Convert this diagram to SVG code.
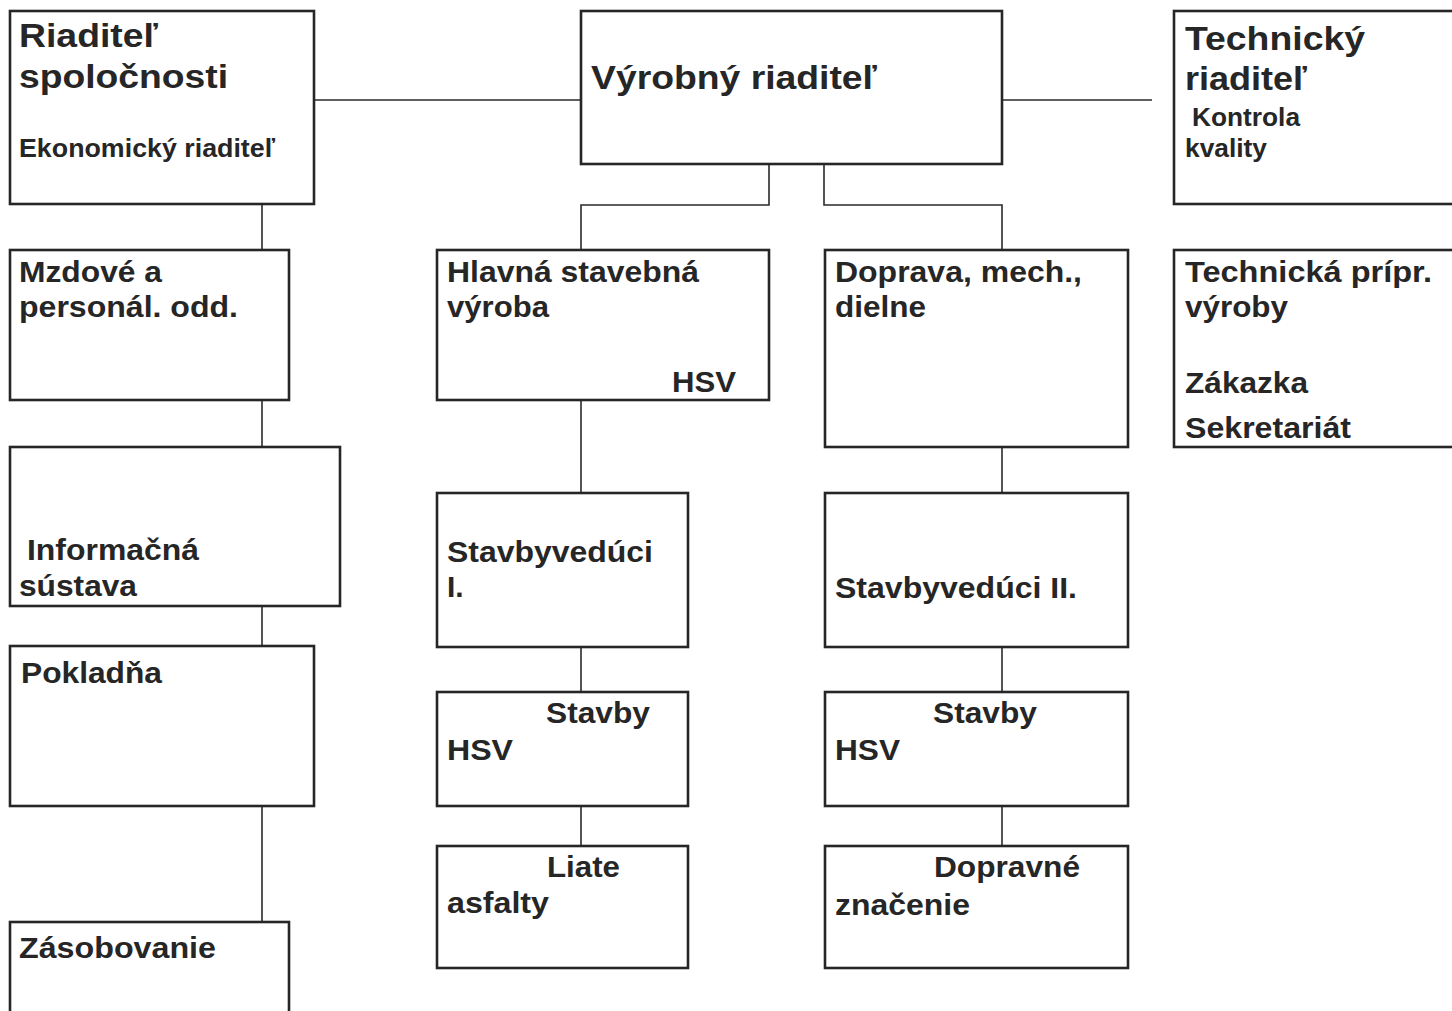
<svg xmlns="http://www.w3.org/2000/svg" width="1452" height="1011" viewBox="0 0 1452 1011">
<style>
.box{fill:#ffffff;stroke:#262626;stroke-width:2.6}
.ln{fill:none;stroke:#2a2a2a;stroke-width:1.6}
text{font-family:"Liberation Sans",Arial,sans-serif;font-weight:bold;fill:#262626}
.t1{font-size:34px}
.t2{font-size:30px}
.t3{font-size:25px}
</style>
<rect width="1452" height="1011" fill="#ffffff"/>
<g id="connectors">
<line class="ln" x1="314" y1="100" x2="581" y2="100"/>
<line class="ln" x1="1002" y1="100" x2="1152" y2="100"/>
<polyline class="ln" points="769,164 769,205 581,205 581,250"/>
<polyline class="ln" points="824,164 824,205 1002,205 1002,250"/>
<line class="ln" x1="262" y1="204" x2="262" y2="250"/>
<line class="ln" x1="262" y1="400" x2="262" y2="447"/>
<line class="ln" x1="262" y1="606" x2="262" y2="646"/>
<line class="ln" x1="262" y1="806" x2="262" y2="922"/>
<line class="ln" x1="581" y1="400" x2="581" y2="493"/>
<line class="ln" x1="581" y1="647" x2="581" y2="692"/>
<line class="ln" x1="581" y1="806" x2="581" y2="846"/>
<line class="ln" x1="1002" y1="447" x2="1002" y2="493"/>
<line class="ln" x1="1002" y1="647" x2="1002" y2="692"/>
<line class="ln" x1="1002" y1="806" x2="1002" y2="846"/>
</g>
<g id="riaditel-spolocnosti">
<rect class="box" x="10" y="11" width="304" height="193"/>
<text class="t1" x="19" y="47" textLength="139" lengthAdjust="spacingAndGlyphs">Riaditeľ</text>
<text class="t1" x="19" y="88" textLength="209" lengthAdjust="spacingAndGlyphs">spoločnosti</text>
<text class="t3" x="19" y="157" textLength="256" lengthAdjust="spacingAndGlyphs">Ekonomický riaditeľ</text>
</g>
<g id="vyrobny-riaditel">
<rect class="box" x="581" y="11" width="421" height="153"/>
<text class="t1" x="591" y="89" textLength="286" lengthAdjust="spacingAndGlyphs">Výrobný riaditeľ</text>
</g>
<g id="technicky-riaditel">
<rect class="box" x="1174" y="11" width="290" height="193"/>
<text class="t1" x="1185" y="50" textLength="180" lengthAdjust="spacingAndGlyphs">Technický</text>
<text class="t1" x="1185" y="90" textLength="122" lengthAdjust="spacingAndGlyphs">riaditeľ</text>
<text class="t3" x="1192" y="126" textLength="108" lengthAdjust="spacingAndGlyphs">Kontrola</text>
<text class="t3" x="1185" y="157" textLength="82" lengthAdjust="spacingAndGlyphs">kvality</text>
</g>
<g id="mzdove">
<rect class="box" x="10" y="250" width="279" height="150"/>
<text class="t2" x="19" y="282" textLength="143" lengthAdjust="spacingAndGlyphs">Mzdové a</text>
<text class="t2" x="19" y="317" textLength="219" lengthAdjust="spacingAndGlyphs">personál. odd.</text>
</g>
<g id="hlavna-stavebna-vyroba">
<rect class="box" x="437" y="250" width="332" height="150"/>
<text class="t2" x="447" y="282" textLength="252" lengthAdjust="spacingAndGlyphs">Hlavná stavebná</text>
<text class="t2" x="447" y="317" textLength="102" lengthAdjust="spacingAndGlyphs">výroba</text>
<text class="t2" x="672" y="392" textLength="64" lengthAdjust="spacingAndGlyphs">HSV</text>
</g>
<g id="doprava">
<rect class="box" x="825" y="250" width="303" height="197"/>
<text class="t2" x="835" y="282" textLength="247" lengthAdjust="spacingAndGlyphs">Doprava, mech.,</text>
<text class="t2" x="835" y="317" textLength="91" lengthAdjust="spacingAndGlyphs">dielne</text>
</g>
<g id="technicka-pripr">
<rect class="box" x="1174" y="250" width="290" height="197"/>
<text class="t2" x="1185" y="282" textLength="247" lengthAdjust="spacingAndGlyphs">Technická prípr.</text>
<text class="t2" x="1185" y="317" textLength="103" lengthAdjust="spacingAndGlyphs">výroby</text>
<text class="t2" x="1185" y="393" textLength="123" lengthAdjust="spacingAndGlyphs">Zákazka</text>
<text class="t2" x="1185" y="438" textLength="166" lengthAdjust="spacingAndGlyphs">Sekretariát</text>
</g>
<g id="informacna-sustava">
<rect class="box" x="10" y="447" width="330" height="159"/>
<text class="t2" x="27" y="560" textLength="172" lengthAdjust="spacingAndGlyphs">Informačná</text>
<text class="t2" x="19" y="596" textLength="118" lengthAdjust="spacingAndGlyphs">sústava</text>
</g>
<g id="stavbyveduci-1">
<rect class="box" x="437" y="493" width="251" height="154"/>
<text class="t2" x="447" y="562" textLength="206" lengthAdjust="spacingAndGlyphs">Stavbyvedúci</text>
<text class="t2" x="447" y="597">I.</text>
</g>
<g id="stavbyveduci-2">
<rect class="box" x="825" y="493" width="303" height="154"/>
<text class="t2" x="835" y="598" textLength="242" lengthAdjust="spacingAndGlyphs">Stavbyvedúci II.</text>
</g>
<g id="pokladna">
<rect class="box" x="10" y="646" width="304" height="160"/>
<text class="t2" x="21" y="683" textLength="141" lengthAdjust="spacingAndGlyphs">Pokladňa</text>
</g>
<g id="stavby-hsv-1">
<rect class="box" x="437" y="692" width="251" height="114"/>
<text class="t2" x="546" y="723" textLength="104" lengthAdjust="spacingAndGlyphs">Stavby</text>
<text class="t2" x="447" y="760" textLength="66" lengthAdjust="spacingAndGlyphs">HSV</text>
</g>
<g id="stavby-hsv-2">
<rect class="box" x="825" y="692" width="303" height="114"/>
<text class="t2" x="933" y="723" textLength="104" lengthAdjust="spacingAndGlyphs">Stavby</text>
<text class="t2" x="835" y="760" textLength="65" lengthAdjust="spacingAndGlyphs">HSV</text>
</g>
<g id="liate-asfalty">
<rect class="box" x="437" y="846" width="251" height="122"/>
<text class="t2" x="547" y="877" textLength="73" lengthAdjust="spacingAndGlyphs">Liate</text>
<text class="t2" x="447" y="913" textLength="102" lengthAdjust="spacingAndGlyphs">asfalty</text>
</g>
<g id="dopravne-znacenie">
<rect class="box" x="825" y="846" width="303" height="122"/>
<text class="t2" x="934" y="877" textLength="146" lengthAdjust="spacingAndGlyphs">Dopravné</text>
<text class="t2" x="835" y="915" textLength="135" lengthAdjust="spacingAndGlyphs">značenie</text>
</g>
<g id="zasobovanie">
<rect class="box" x="10" y="922" width="279" height="110"/>
<text class="t2" x="19" y="958" textLength="197" lengthAdjust="spacingAndGlyphs">Zásobovanie</text>
</g>
</svg>
